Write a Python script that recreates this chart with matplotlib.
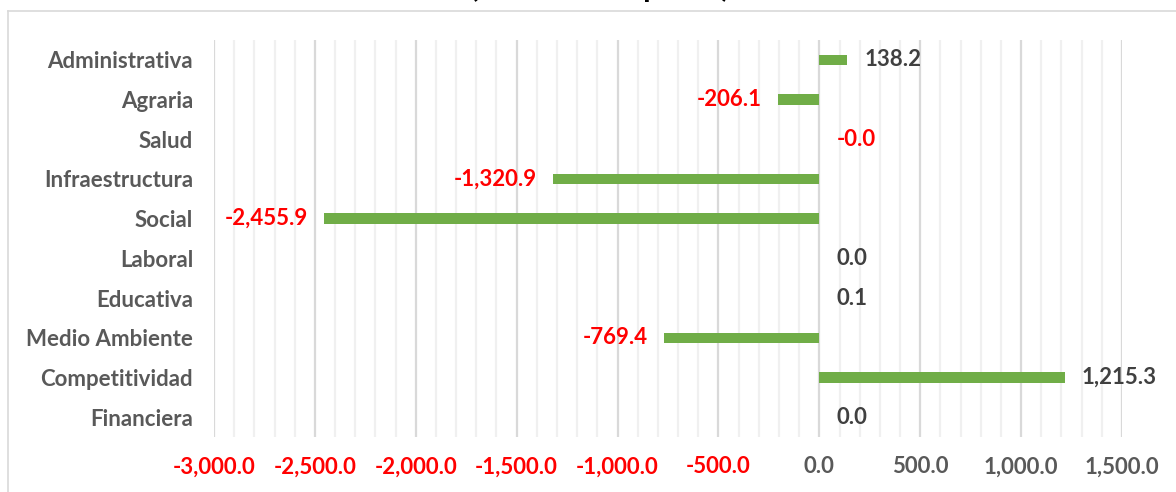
import matplotlib
matplotlib.use("Agg")
import matplotlib.pyplot as plt
from matplotlib.lines import Line2D
from matplotlib.ticker import MultipleLocator, FuncFormatter

categories = ["Administrativa", "Agraria", "Salud", "Infraestructura", "Social",
              "Laboral", "Educativa", "Medio Ambiente", "Competitividad", "Financiera"]
values = [138.2, -206.1, -0.01, -1320.9, -2455.9, 0.0, 0.1, -769.4, 1215.3, 0.0]
labels = ["138.2", "-206.1", "-0.0", "-1,320.9", "-2,455.9", "0.0", "0.1", "-769.4", "1,215.3", "0.0"]
title = "(Millones de pesos)"

FONT = ["Lato", "DejaVu Sans"]
plt.rcParams['font.family'] = FONT
FS = 16

fig = plt.figure(figsize=(11.76, 4.92), dpi=100)
ax = fig.add_axes([214/1176, 1-437/492, (1122-214)/1176, (437-40)/492])

ypos = list(range(len(categories)))
ax.barh(ypos, values, height=0.26, color="#70AD47", zorder=3)
ax.set_ylim(len(categories)-0.5, -0.5)
ax.set_xlim(-3000, 1500)

ax.xaxis.set_major_locator(MultipleLocator(500))
ax.xaxis.set_minor_locator(MultipleLocator(100))
ax.grid(which='major', axis='x', color="#D9D9D9", linewidth=1.6, zorder=0)
ax.grid(which='minor', axis='x', color="#F0F0F0", linewidth=1.6, zorder=0)
ax.grid(axis='y', visible=False)
for s in ax.spines.values():
    s.set_visible(False)
ax.tick_params(which='both', length=0)
ax.xaxis.set_major_formatter(FuncFormatter(lambda v, p: f"{v:,.1f}"))
ax.tick_params(axis='x', pad=14, labelsize=FS)
for t in ax.get_xticklabels():
    t.set_fontweight('bold')
fig.canvas.draw()
for t, v in zip(ax.get_xticklabels(), ax.get_xticks()):
    t.set_color("#FF0000" if v < 0 else "#595959")

ax.set_yticks(ypos)
ax.set_yticklabels(categories, fontsize=FS, fontweight='bold', color="#595959")
ax.tick_params(axis='y', pad=15)

for y, v, lab in zip(ypos, values, labels):
    if abs(v) < 1:
        ax.annotate(lab, (0, y), xytext=(17, 0), textcoords='offset pixels',
                    ha='left', va='center', fontsize=FS, fontweight='bold',
                    color="#FF0000" if lab.startswith('-') else "#404040")
    elif v > 0:
        ax.annotate(lab, (v, y), xytext=(17, 0), textcoords='offset pixels',
                    ha='left', va='center', fontsize=FS, fontweight='bold', color="#404040")
    else:
        ax.annotate(lab, (v, y), xytext=(-16, 0), textcoords='offset pixels',
                    ha='right', va='center', fontsize=FS, fontweight='bold', color="#FF0000")

# chart border
fig.add_artist(Line2D([8/1176, 1], [1-11/492, 1-11/492], color="#D9D9D9", linewidth=1.2))
fig.add_artist(Line2D([8/1176, 8/1176], [0, 1-11/492], color="#D9D9D9", linewidth=1.2))

fig.text(600/1176, 1+3/492, title, ha='center', va='baseline', fontsize=22,
         fontweight='bold', color="black")

fig.savefig("out.png", dpi=100)
